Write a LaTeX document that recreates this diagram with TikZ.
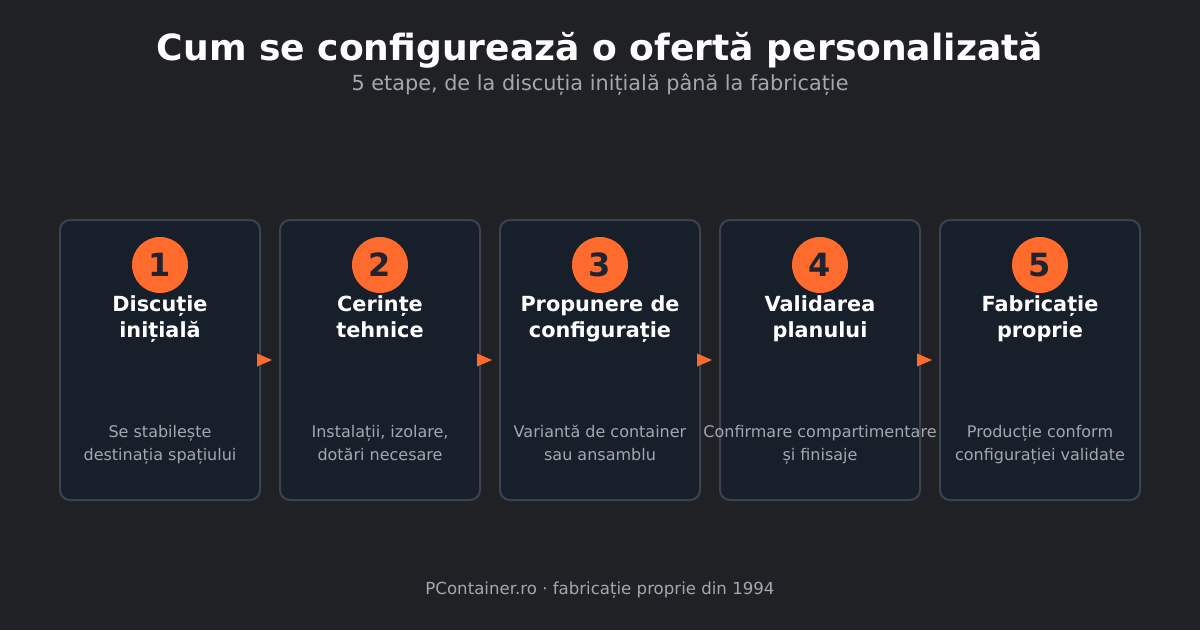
\documentclass[tikz,border=0pt]{standalone}
\usepackage{fontspec}
\setmainfont{DejaVu Sans}
\definecolor{bg}{HTML}{1F2125}
\definecolor{cardfill}{HTML}{171F2B}
\definecolor{cardline}{HTML}{3B4350}
\definecolor{accent}{HTML}{FF6B2C}
\definecolor{numcol}{HTML}{1F2430}
\definecolor{muted}{HTML}{A3A8B0}
\begin{document}
\begin{tikzpicture}[x=1pt,y=-1pt,
  card/.style={draw=cardline,line width=2pt,fill=cardfill,rounded corners=10pt,minimum width=200pt,minimum height=280pt,inner sep=0pt},
  badge/.style={circle,fill=accent,minimum size=56pt,inner sep=0pt,text=numcol,font=\fontsize{32}{32}\selectfont\bfseries},
  stitle/.style={text=white,font=\fontsize{20.8}{26}\selectfont\bfseries,align=center,anchor=north},
  sdesc/.style={text=muted,font=\fontsize{16}{23}\selectfont,align=center,anchor=north},
  tip/.style={fill=accent}
]
\useasboundingbox (0,0) rectangle (1200,630);
\fill[bg] (0,0) rectangle (1200,630);
\node[text=white,font=\fontsize{36.1}{40}\selectfont\bfseries] (title) at (600,50) {Cum se configurează o ofertă personalizată};
\node[text=muted,font=\fontsize{20.8}{24}\selectfont] (sub) at (600,85) {5 etape, de la discuția inițială până la fabricație};
\node[text=muted,font=\fontsize{16.6}{20}\selectfont] (foot) at (600,590) {PContainer.ro · fabricație proprie din 1994};
\foreach \i/\n/\t/\d in {
  1/1/{Discuție\\inițială}/{Se stabilește\\destinația spațiului},
  2/2/{Cerințe\\tehnice}/{Instalații, izolare,\\dotări necesare},
  3/3/{Propunere de\\configurație}/{Variantă de container\\sau ansamblu},
  4/4/{Validarea\\planului}/{Confirmare compartimentare\\și finisaje},
  5/5/{Fabricație\\proprie}/{Producție conform\\configurației validate}}{
  \pgfmathsetmacro{\cx}{160+(\i-1)*220}
  \node[card] (c\i) at (\cx,360) {};
  \node[badge] (b\i) at (\cx,265) {\n};
  \node[stitle] (t\i) at (\cx,292) {\t};
  \node[sdesc] (d\i) at (\cx,422) {\d};
}
\foreach \i in {1,2,3,4}{
  \fill[tip] (c\i.east) ++(-4,-6.5) -- ++(15,6.5) -- ++(-15,6.5) -- cycle;
}
\end{tikzpicture}
\end{document}
